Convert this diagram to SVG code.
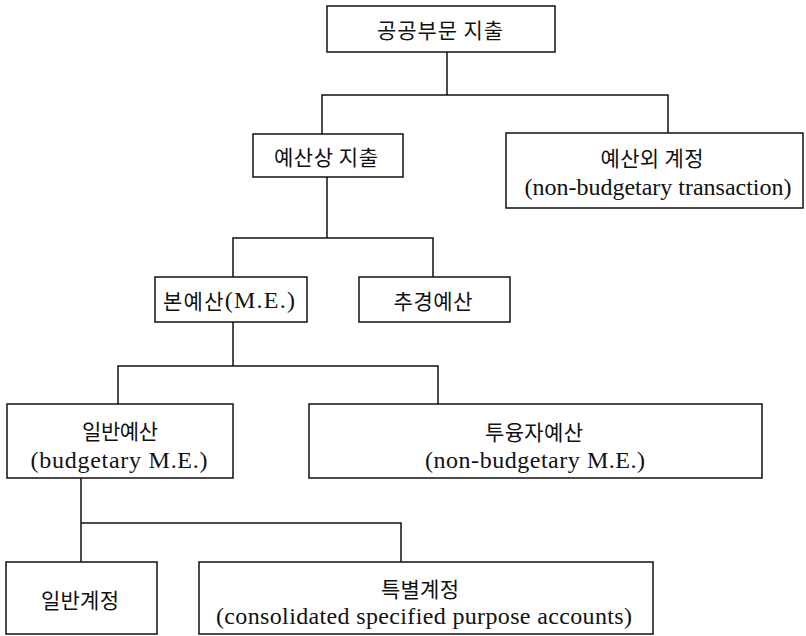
<svg xmlns="http://www.w3.org/2000/svg" width="806" height="636" viewBox="0 0 806 636">
<style>
.box{fill:#fff;stroke:#111;stroke-width:1.5}
.ln{fill:none;stroke:#111;stroke-width:1.5}
text{font-family:"Liberation Serif","Noto Sans CJK KR",serif;font-size:24px;fill:#111;text-anchor:middle;dominant-baseline:central}
.ko{font-family:"Noto Sans CJK KR","Liberation Serif",sans-serif;font-size:21px}
</style>
<rect width="806" height="636" fill="#fff"/>
<g id="connectors">
<path class="ln" d="M447 52V95M322 134V95H668V133"/>
<path class="ln" d="M327 177V238M233 277V238H433V277"/>
<path class="ln" d="M233 322V366M118 404V366H438V404"/>
<path class="ln" d="M81 478V562M81 523H401V562"/>
</g>
<g id="n-public">
<rect class="box" x="327" y="6" width="228" height="46"/>
<text class="ko" x="440" y="29" textLength="126" lengthAdjust="spacing">공공부문 지출</text>
</g>
<g id="n-budget">
<rect class="box" x="253" y="134" width="150" height="43"/>
<text class="ko" x="326" y="156" textLength="104" lengthAdjust="spacing">예산상 지출</text>
</g>
<g id="n-nonbudget">
<rect class="box" x="506" y="133" width="297" height="75"/>
<text class="ko" x="652" y="157" textLength="103" lengthAdjust="spacing">예산외 계정</text>
<text x="658" y="187" textLength="267" lengthAdjust="spacing">(non-budgetary transaction)</text>
</g>
<g id="n-main">
<rect class="box" x="155" y="277" width="152" height="45"/>
<text x="229" y="300" textLength="132" lengthAdjust="spacing"><tspan class="ko">본예산</tspan>(M.E.)</text>
</g>
<g id="n-supp">
<rect class="box" x="359" y="277" width="151" height="45"/>
<text class="ko" x="433" y="300" textLength="79" lengthAdjust="spacing">추경예산</text>
</g>
<g id="n-general-budget">
<rect class="box" x="7" y="404" width="226" height="74"/>
<text class="ko" x="120" y="430" textLength="76" lengthAdjust="spacing">일반예산</text>
<text x="119" y="460" textLength="177" lengthAdjust="spacing">(budgetary M.E.)</text>
</g>
<g id="n-invest">
<rect class="box" x="309" y="404" width="453" height="74"/>
<text class="ko" x="534" y="431" textLength="98" lengthAdjust="spacing">투융자예산</text>
<text x="535" y="460" textLength="220" lengthAdjust="spacing">(non-budgetary M.E.)</text>
</g>
<g id="n-general-account">
<rect class="box" x="6" y="562" width="151" height="72"/>
<text class="ko" x="80" y="599" textLength="78" lengthAdjust="spacing">일반계정</text>
</g>
<g id="n-special">
<rect class="box" x="199" y="562" width="454" height="72"/>
<text class="ko" x="420" y="588" textLength="78" lengthAdjust="spacing">특별계정</text>
<text x="424" y="616" textLength="416" lengthAdjust="spacing">(consolidated specified purpose accounts)</text>
</g>
</svg>
